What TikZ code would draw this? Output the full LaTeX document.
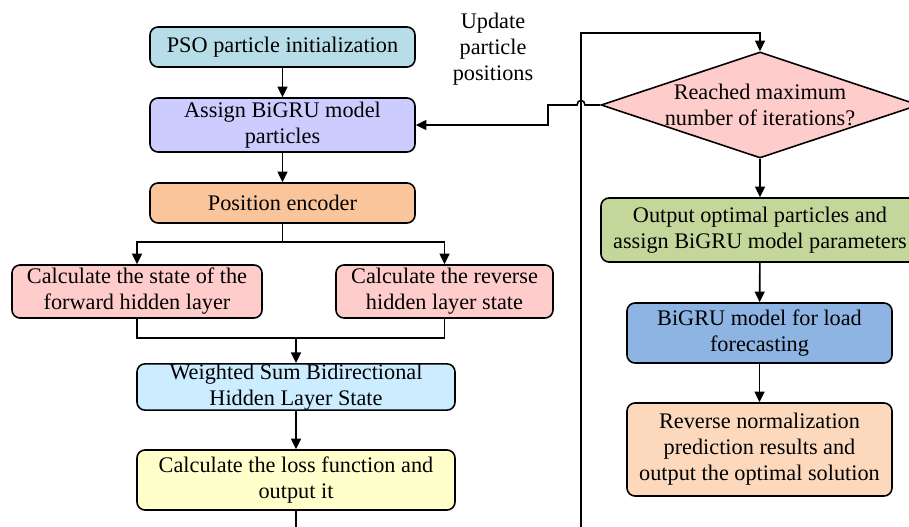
\documentclass[tikz,border=0pt]{standalone}
\usepackage{fontspec}
\setmainfont{Liberation Serif}
\usetikzlibrary{shapes.geometric,arrows.meta}

\definecolor{psoblue}{RGB}{183,222,232}
\definecolor{lavender}{RGB}{204,204,255}
\definecolor{encorange}{RGB}{250,197,154}
\definecolor{statepink}{RGB}{255,204,204}
\definecolor{sumblue}{RGB}{204,236,255}
\definecolor{lossyellow}{RGB}{255,255,204}
\definecolor{outgreen}{RGB}{196,215,155}
\definecolor{fcblue}{RGB}{141,180,226}
\definecolor{peach}{RGB}{252,216,188}

\tikzset{
  box/.style={draw, line width=1.2pt, rounded corners=6pt, align=center, inner sep=0pt,
    font=\fontsize{16.7}{19.5}\selectfont},
  lbl/.style={align=center, font=\fontsize{16.7}{19.5}\selectfont},
}

\begin{document}
\begin{tikzpicture}[x=0.75pt, y=-0.75pt, line width=1.2pt, >={Triangle[width=7.5pt,length=8pt]}]
\useasboundingbox (0,0) rectangle (909,527);
% left column:
\node[box, fill=psoblue, minimum width=198.75pt, minimum height=30pt] (pso) at (282.5,47) {PSO particle initialization};
\node[box, fill=lavender, minimum width=198.75pt, minimum height=40.5pt] (assign) at (282.5,125) {Assign BiGRU model\\particles};
\node[box, fill=encorange, minimum width=198.75pt, minimum height=30pt] (enc) at (282.5,203) {Position encoder};
\node[box, fill=statepink, minimum width=187.5pt, minimum height=39.75pt] (fwd) at (137,291.5) {Calculate the state of the\\forward hidden layer};
\node[box, fill=statepink, minimum width=162.75pt, minimum height=39.75pt] (rev) at (444.5,291.5) {Calculate the reverse\\hidden layer state};
\node[box, fill=sumblue, minimum width=238.5pt, minimum height=34.5pt] (wsum) at (296,387) {Weighted Sum Bidirectional\\Hidden Layer State};
\node[box, fill=lossyellow, minimum width=238.5pt, minimum height=45pt] (loss) at (296,480) {Calculate the loss function and\\output it};
% right column:
\node[draw, line width=1.2pt, shape=diamond, aspect=3, inner sep=0pt, fill=statepink, minimum width=238.5pt, minimum height=79.5pt,
  font=\fontsize{16.7}{19.5}\selectfont, align=center] (iter) at (760,105) {Reached maximum\\number of iterations?};
\node[box, fill=outgreen, minimum width=238.5pt, minimum height=48pt] (best) at (760,230) {Output optimal particles and\\assign BiGRU model parameters};
\node[box, fill=fcblue, minimum width=198.75pt, minimum height=45pt] (fcast) at (759.5,333) {BiGRU model for load\\forecasting};
\node[box, fill=peach, minimum width=198.75pt, minimum height=69.75pt] (renorm) at (759.5,449.5) {Reverse normalization\\prediction results and\\output the optimal solution};
\node[lbl] (upd) at (493,49) {Update\\particle\\positions};

% branch and merge points
\coordinate (split) at (282.5,242);
\coordinate (join) at (296,338);
\coordinate (lowturn) at (581,560);
\coordinate (topturn) at (581,33);
\coordinate (kink) at (548,105);

\draw[->] (pso) -- (assign);
\draw[->] (assign) -- (enc);
\draw (enc) -- (split);
\draw[->] (split) -| (fwd);
\draw[->] (split) -| (rev);
\draw (fwd) |- (join);
\draw (rev) |- (join);
\draw[->] (join) -- (wsum);
\draw[->] (wsum) -- (loss);
% loop back to the check
\draw[->] (loss) |- (lowturn) -- (topturn) -| (iter);
% not finished: update positions
\draw[->] (iter.west) -- (585,105) .. controls (585,99) and (577,99) .. (577,105) -- (kink) |- (assign.east);
% finished
\draw[->] (iter) -- (best);
\draw[->] (best) -- (fcast);
\draw[->] (fcast) -- (renorm);
\end{tikzpicture}
\end{document}
